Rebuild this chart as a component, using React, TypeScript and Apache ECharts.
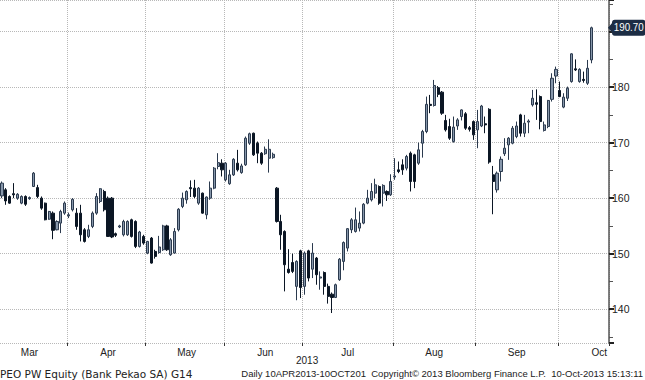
import React, { useEffect, useRef } from "react";
import * as echarts from "echarts";

// Month names and trading-day indexes (start of each month / label position)
const months = ["Mar", "Apr", "May", "Jun", "Jul", "Aug", "Sep", "Oct"];
const monthStart = [0, 17, 37, 57, 77, 100, 121, 142];
const labelIdx = [7, 27, 47, 67, 88, 110, 131, 152];
const padCount = 4;

const opens = [
  160.4, 161.5, 160.3, 160.8, 160.0, 159.1, 160.3, 159.9, 162.1, 161.9, 160.0, 159.1, 156.2, 157.3, 154.3, 155.5, 157.3,
  156.8, 157.9, 157.3, 157.3, 154.3, 153.1, 154.9, 157.3, 159.4, 161.2, 160.0, 160.0, 153.6, 154.8, 153.4, 153.4, 156.1, 155.8, 151.3, 153.1,
  150.1, 152.8, 150.4, 150.2, 150.7, 155.0, 149.8, 150.1, 154.3, 158.5, 159.7, 161.9, 161.8, 159.1, 160.9, 157.0, 160.0, 161.8, 165.7, 166.3,
  163.3, 162.6, 164.2, 166.3, 164.6, 166.0, 169.9, 171.7, 169.9, 168.1, 168.0, 167.2, 167.3, 161.8, 155.8, 154.0, 147.2, 148.4, 144.1, 150.5,
  144.1, 150.5, 147.2, 149.2, 145.6, 146.6, 144.1, 142.7, 142.1, 145.3, 148.6, 151.0, 154.3, 154.0, 154.6, 155.5, 159.1, 159.7, 160.9, 162.1, 160.9, 161.2, 160.6,
  163.8, 165.1, 166.0, 165.4, 168.1, 167.8, 166.3, 169.9, 172.0, 176.9, 176.7, 179.9, 179.1, 174.0, 172.9, 170.2, 173.0, 174.7, 175.2, 172.7, 173.8,
  172.3, 173.0, 173.4, 176.0, 164.2, 161.5, 164.8, 168.0, 169.6, 169.9, 171.1, 175.0, 171.7, 173.7, 176.8, 177.2, 178.3, 172.2, 172.9, 177.8, 182.0,
  179.4, 176.4, 178.0, 181.0, 183.3, 181.0, 181.4, 180.7, 184.9,
];
const closes = [
  162.7, 159.5, 159.1, 160.6, 160.7, 160.3, 158.9, 160.1, 164.5, 160.3, 158.2, 156.1, 157.6, 154.2, 155.8, 157.6, 159.1,
  157.0, 159.8, 154.9, 153.4, 152.2, 154.3, 157.3, 160.3, 161.7, 157.9, 153.1, 153.0, 153.3, 155.0, 155.8, 155.8, 153.1, 151.3, 153.9, 151.9,
  152.2, 148.3, 149.5, 151.2, 155.0, 150.7, 152.5, 154.0, 158.0, 160.0, 161.2, 161.7, 160.3, 161.8, 157.3, 160.2, 161.8, 165.4, 166.4, 165.1,
  166.3, 164.2, 167.0, 165.1, 165.8, 170.8, 171.6, 167.8, 168.1, 166.3, 168.8, 168.8, 167.9, 155.8, 153.4, 148.0, 146.6, 146.8, 148.6, 143.9,
  150.1, 145.6, 150.1, 146.2, 145.8, 144.1, 142.3, 142.1, 144.4, 149.0, 152.0, 154.5, 156.1, 156.1, 155.5, 158.9, 160.0, 161.2, 162.4, 159.1, 162.3, 160.6, 163.0,
  164.0, 164.8, 165.1, 167.5, 163.0, 163.0, 168.7, 172.0, 176.9, 176.7, 180.3, 178.7, 175.3, 172.3, 170.8, 172.8, 174.1, 175.9, 172.6, 172.4, 171.4,
  173.8, 176.6, 173.2, 166.5, 163.0, 164.5, 167.0, 169.0, 170.8, 172.6, 173.0, 171.7, 173.5, 173.9, 178.0, 176.9, 173.8, 173.2, 177.6, 181.6, 183.2,
  178.3, 178.2, 179.8, 186.0, 183.1, 183.2, 181.2, 183.4, 190.7,
];
const lows = [
  160.0, 158.8, 159.0, 160.0, 159.7, 158.9, 158.6, 159.7, 162.0, 160.0, 157.9, 156.0, 156.1, 152.6, 154.2, 153.7, 157.0,
  156.4, 157.6, 154.3, 152.2, 152.0, 152.8, 154.6, 157.0, 159.1, 157.6, 153.0, 152.8, 153.0, 154.6, 153.1, 153.2, 152.9, 151.0, 151.1, 151.6,
  149.9, 148.2, 149.1, 150.0, 150.5, 150.5, 149.6, 150.0, 154.0, 158.2, 159.0, 160.2, 160.0, 158.8, 157.2, 156.2, 159.7, 161.6, 165.2, 163.9,
  163.0, 162.4, 164.0, 164.8, 164.4, 165.8, 169.6, 167.6, 166.3, 166.0, 167.8, 164.6, 167.1, 155.6, 150.7, 143.2, 146.4, 146.5, 141.6, 142.0,
  142.6, 145.0, 145.6, 144.4, 143.5, 142.6, 141.0, 139.3, 142.0, 145.1, 147.0, 150.4, 153.7, 153.8, 154.0, 155.3, 158.9, 159.4, 160.0, 158.8, 158.5, 159.5, 160.4,
  163.3, 164.5, 164.2, 165.0, 161.2, 161.8, 166.0, 167.3, 171.7, 175.3, 176.5, 178.2, 175.0, 172.0, 170.5, 170.0, 172.3, 174.0, 172.3, 172.0, 170.5,
  169.0, 172.8, 171.7, 166.2, 157.1, 161.0, 163.0, 167.6, 166.9, 169.7, 170.8, 171.1, 171.0, 171.7, 176.5, 174.1, 172.4, 172.0, 172.6, 177.4, 180.7,
  178.2, 176.2, 177.5, 180.8, 182.9, 180.8, 180.8, 180.4, 184.3,
];
const highs = [
  163.0, 161.8, 160.5, 162.7, 160.9, 160.5, 160.5, 160.3, 164.7, 162.4, 160.3, 159.2, 157.7, 157.6, 156.0, 157.9, 159.4,
  157.4, 160.0, 158.2, 158.8, 154.6, 155.2, 157.6, 160.9, 161.8, 161.5, 160.3, 160.2, 153.8, 155.2, 156.1, 156.0, 156.3, 156.0, 154.1, 153.4,
  152.3, 153.0, 150.7, 153.2, 155.2, 155.2, 152.8, 154.6, 158.2, 161.0, 161.4, 163.2, 163.3, 162.0, 161.0, 160.3, 163.0, 165.6, 168.1, 167.0,
  166.5, 165.1, 167.2, 168.7, 166.2, 171.1, 171.8, 171.8, 170.2, 168.3, 169.3, 170.6, 168.2, 162.0, 157.0, 154.2, 150.8, 150.0, 148.8, 150.7,
  150.4, 150.7, 151.9, 149.4, 146.8, 146.8, 144.6, 143.0, 144.6, 149.2, 152.2, 154.6, 156.4, 158.3, 157.6, 159.1, 161.5, 162.7, 163.5, 162.3, 162.5, 161.4, 164.3,
  167.2, 166.6, 167.0, 167.8, 168.4, 168.0, 170.0, 172.3, 178.3, 178.6, 181.3, 180.2, 179.3, 175.0, 174.3, 174.7, 174.4, 176.0, 175.5, 173.0, 174.0,
  175.9, 176.8, 174.7, 176.2, 165.8, 164.8, 167.5, 170.8, 171.0, 173.0, 173.8, 175.2, 175.0, 174.2, 179.5, 179.6, 178.5, 173.8, 177.7, 182.5, 183.7,
  181.0, 178.9, 180.1, 186.1, 185.0, 183.4, 182.8, 184.9, 190.9,
];

const FONT = "'Liberation Sans', Arial, sans-serif";

export default function App() {
  const ref = useRef<HTMLDivElement>(null);

  useEffect(() => {
    if (!ref.current) return;
    const chart = echarts.init(ref.current, null, { renderer: "svg" });
    const n = opens.length;
    const categories: string[] = [];
    for (let i = 0; i < n + padCount; i++) categories.push(String(i));
    const candles: any[] = opens.map((o, i) => [o, closes[i], lows[i], highs[i]]);
    for (let i = 0; i < padCount; i++) candles.push("-");
    const lastClose = closes[n - 1];
    const boundary = (i: number) => i > 0 && monthStart.includes(i);

    chart.setOption({
      animation: false,
      backgroundColor: "#ffffff",
      grid: { left: 0, right: 36, top: -1, bottom: 37, containLabel: false },
      xAxis: {
        type: "category",
        data: categories,
        boundaryGap: true,
        axisLine: { show: false },
        axisTick: {
          show: true,
          interval: (i: number) => boundary(i),
          length: 3,
          lineStyle: { color: "#333", width: 1 },
        },
        axisLabel: {
          interval: (i: number) => labelIdx.includes(i),
          formatter: (_v: string, i: number) => {
            const k = labelIdx.indexOf(i);
            return k >= 0 ? months[k] : "";
          },
          margin: 4,
          fontSize: 10,
          color: "#222",
          fontFamily: FONT,
        },
        splitLine: {
          show: true,
          interval: (i: number) => boundary(i),
          lineStyle: { type: "dotted", color: "#b8b8b8", width: 1 },
        },
      },
      yAxis: {
        type: "value",
        position: "right",
        min: 133.9,
        max: 195.7,
        minInterval: 10,
        maxInterval: 10,
        axisLine: { show: true, lineStyle: { color: "#555", width: 1.5 } },
        axisTick: { show: true, length: 5, lineStyle: { color: "#222", width: 2 } },
        minorTick: { show: true, splitNumber: 2, length: 4, lineStyle: { color: "#555", width: 1 } },
        minorSplitLine: { show: false },
        axisLabel: {
          showMinLabel: false,
          showMaxLabel: false,
          formatter: (v: number) => (v % 10 !== 0 || v === 190 ? "" : String(v)),
          margin: 3,
          fontSize: 10.5,
          color: "#222",
          fontFamily: FONT,
        },
        splitLine: { show: true, lineStyle: { type: "dotted", color: "#b8b8b8", width: 1 } },
      },
      series: [
        {
          type: "candlestick",
          data: candles,
          barWidth: 2.6,
          itemStyle: {
            color: "#8797ab",
            color0: "#0b1624",
            borderColor: "#2b3a4e",
            borderColor0: "#0b1624",
            borderWidth: 1,
          },
        },
      ],
      graphic: [
        {
          id: "year",
          type: "text",
          left: 296,
          top: 355,
          style: { text: "2013", fontSize: 10, fill: "#222", fontFamily: FONT },
        },
        {
          id: "title",
          type: "text",
          left: 0,
          top: 368,
          style: { text: "PEO PW Equity (Bank Pekao SA) G14", fontSize: 10.5, fill: "#222", fontFamily: "'DejaVu Sans', sans-serif" },
        },
        {
          id: "footer",
          type: "text",
          right: 2,
          top: 368,
          style: {
            text: "Daily 10APR2013-10OCT201  Copyright\u00a9 2013 Bloomberg Finance L.P.  10-Oct-2013 15:13:11",
            fontSize: 9.5,
            fill: "#222",
            fontFamily: FONT,
          },
        },
      ],
    });

    const yTag = chart.convertToPixel({ yAxisIndex: 0 }, lastClose) as number;
    chart.setOption({
      graphic: [
        {
          id: "tagArrow",
          type: "polygon",
          shape: { points: [[608, yTag], [614, yTag - 7], [614, yTag + 7]] },
          style: { fill: "#1c2d44" },
          z: 100,
        },
        {
          id: "tagText",
          type: "text",
          x: 612,
          y: yTag,
          scaleX: 0.93,
          z: 101,
          style: {
            text: lastClose.toFixed(2),
            fill: "#ffffff",
            backgroundColor: "#1c2d44",
            padding: [3, 2, 2, 2],
            borderRadius: 3,
            fontSize: 10.5,
            fontFamily: FONT,
            verticalAlign: "middle",
            align: "left",
          },
        },
      ],
    });

    return () => chart.dispose();
  }, []);

  return (
    <div
      ref={ref}
      style={{ position: "absolute", left: 0, top: 0, width: 645, height: 380, background: "#fff" }}
    />
  );
}
